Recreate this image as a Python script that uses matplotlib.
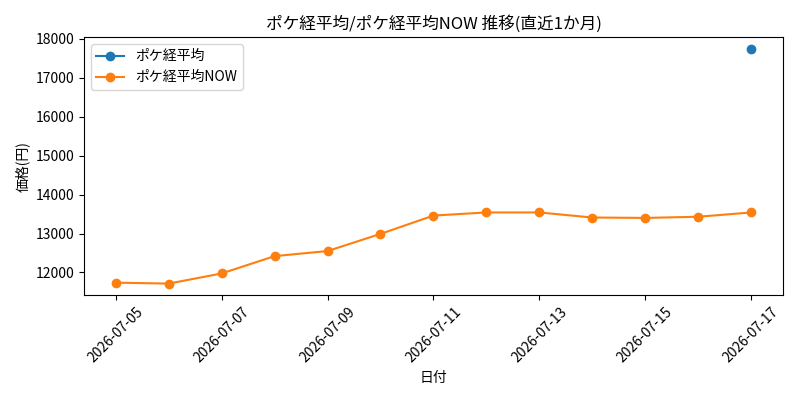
import matplotlib
matplotlib.use("Agg")
import matplotlib.pyplot as plt
import numpy as np
import pandas as pd

plt.rcParams["font.family"] = ["Noto Sans CJK JP", "DejaVu Sans"]

# データ
dates = pd.date_range("2026-07-05", "2026-07-17", freq="D")
poke_avg = [np.nan] * 12 + [17740]
poke_avg_now = [11740, 11715, 11975, 12420, 12550, 12990, 13460,
                13540, 13540, 13410, 13400, 13430, 13540]

fig, ax = plt.subplots(figsize=(8, 4), dpi=100)
ax.plot(dates, poke_avg, marker="o", label="ポケ経平均")
ax.plot(dates, poke_avg_now, marker="o", label="ポケ経平均NOW")

ax.set_title("ポケ経平均/ポケ経平均NOW 推移(直近1か月)")
ax.set_xlabel("日付")
ax.set_ylabel("価格(円)")
ax.set_xticks(dates[::2])
ax.set_xticklabels([d.strftime("%Y-%m-%d") for d in dates[::2]], rotation=45)
ax.legend(loc="upper left")

plt.tight_layout()
plt.savefig("out.png")
